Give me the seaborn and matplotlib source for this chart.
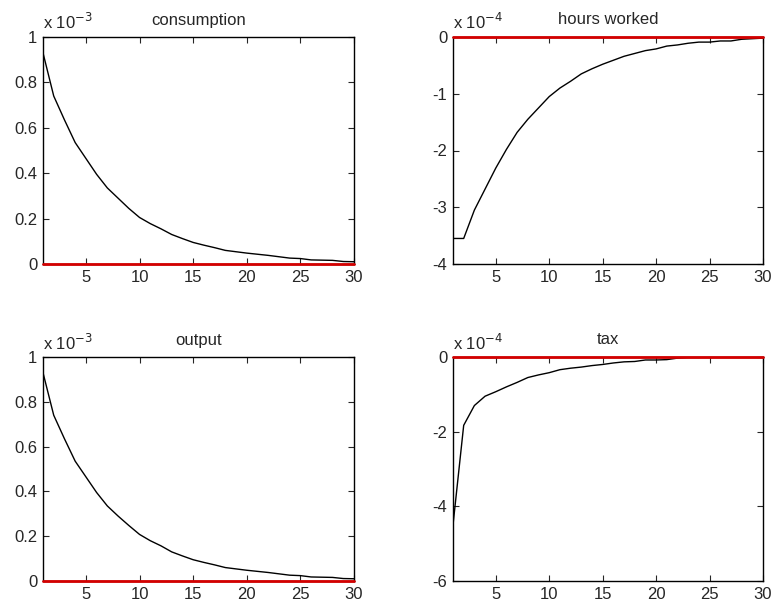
import numpy as np
import pandas as pd
import matplotlib
matplotlib.use("Agg")
import matplotlib.pyplot as plt
import matplotlib.ticker as mticker
import seaborn as sns

# periods
periods = list(range(1, 31))

# impulse responses (in units of the axis multiplier)
consumption = [0.93, 0.74, 0.635, 0.535, 0.465, 0.395, 0.335, 0.29, 0.245, 0.205,
               0.178, 0.155, 0.13, 0.112, 0.095, 0.083, 0.072, 0.06, 0.054, 0.048,
               0.043, 0.038, 0.032, 0.026, 0.024, 0.018, 0.017, 0.016, 0.011, 0.01]
hours = [-3.55, -3.55, -3.05, -2.68, -2.31, -1.98, -1.68, -1.45, -1.25, -1.05,
         -0.9, -0.78, -0.65, -0.56, -0.48, -0.41, -0.34, -0.29, -0.24, -0.21,
         -0.16, -0.14, -0.11, -0.09, -0.09, -0.07, -0.07, -0.04, -0.03, -0.02]
output = [0.93, 0.74, 0.635, 0.535, 0.465, 0.395, 0.335, 0.29, 0.248, 0.208,
          0.18, 0.157, 0.13, 0.112, 0.095, 0.083, 0.072, 0.06, 0.054, 0.048,
          0.043, 0.038, 0.032, 0.026, 0.024, 0.018, 0.017, 0.016, 0.011, 0.01]
tax = [-4.5, -1.83, -1.3, -1.05, -0.93, -0.8, -0.68, -0.55, -0.48, -0.42,
       -0.34, -0.3, -0.27, -0.23, -0.2, -0.16, -0.13, -0.12, -0.08, -0.08,
       -0.07, -0.03, -0.01, -0.01, 0.0, 0.0, 0.0, 0.0, 0.0, 0.0]

titles = ["consumption", "hours worked", "output", "tax"]
series = [consumption, hours, output, tax]
exponents = ["-3", "-4", "-3", "-4"]
ylims = [(0, 1), (-4, 0), (0, 1), (-6, 0)]
yticks = [[0, 0.2, 0.4, 0.6, 0.8, 1], [-4, -3, -2, -1, 0],
          [0, 0.2, 0.4, 0.6, 0.8, 1], [-6, -4, -2, 0]]

sns.set_style("ticks")
plt.rcParams['font.family'] = ['Liberation Sans', 'DejaVu Sans']

fig = plt.figure(figsize=(7.77, 6.12), dpi=100)
W, H = 777, 612
boxes = [(43, 37, 354, 264), (453, 37, 763, 264),
         (43, 357, 354, 581), (453, 357, 763, 581)]

for i in range(4):
    x0, y0, x1, y1 = boxes[i]
    ax = fig.add_axes([x0 / W, 1 - y1 / H, (x1 - x0) / W, (y1 - y0) / H])
    df = pd.DataFrame({"t": periods, "v": series[i]})
    sns.lineplot(data=df, x="t", y="v", ax=ax, color="black", linewidth=1.0)
    ax.axhline(0, color="#d40000", linewidth=2.0, zorder=5, clip_on=False)
    ax.set_xlim(1, 30)
    ax.set_ylim(*ylims[i])
    ax.set_xticks([5, 10, 15, 20, 25, 30])
    ax.set_yticks(yticks[i])
    ax.yaxis.set_major_formatter(mticker.FormatStrFormatter('%g'))
    ax.tick_params(direction="in", top=True, right=True, length=4,
                   labelsize=12, width=0.8, pad=4)
    for s in ax.spines.values():
        s.set_linewidth(1.0)
        s.set_color("black")
    ax.set_xlabel("")
    ax.set_ylabel("")
    ax.set_title(titles[i], fontsize=12, pad=9)
    ax.text(0.0, 1.02, "x 10$^{%s}$" % exponents[i], transform=ax.transAxes,
            fontsize=12, ha="left", va="bottom")

fig.savefig("out.png", dpi=100)
